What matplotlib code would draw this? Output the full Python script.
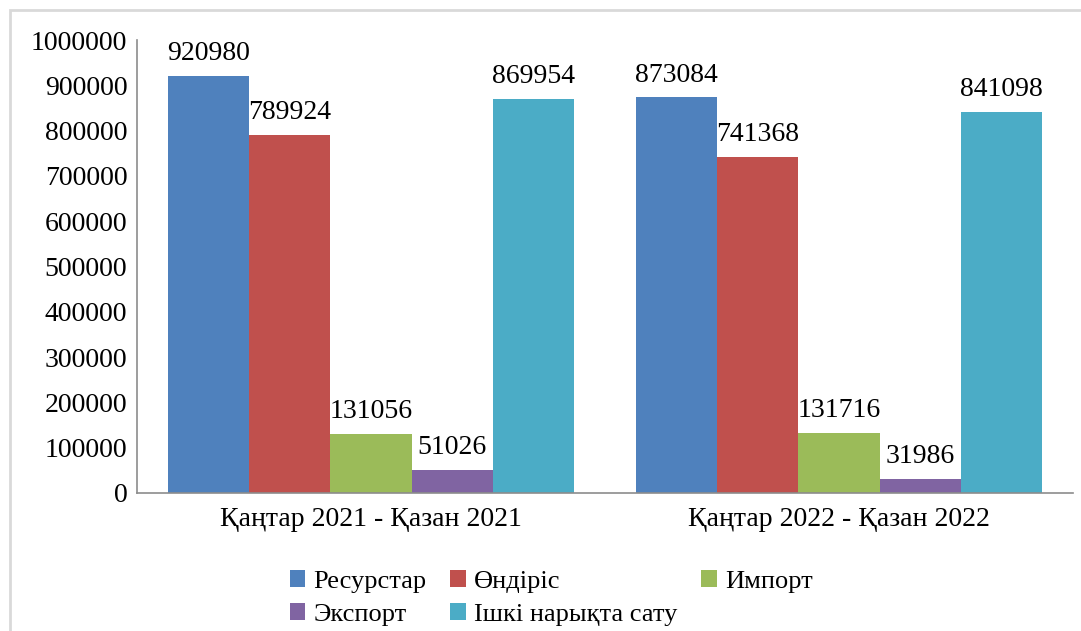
import matplotlib.pyplot as plt
import matplotlib.patches as patches
import numpy as np

plt.rcParams['font.family'] = ['Liberation Serif', 'DejaVu Serif']

# данные
periods = ['Қаңтар 2021 - Қазан 2021', 'Қаңтар 2022 - Қазан 2022']
series_names = ['Ресурстар', 'Өндіріс', 'Импорт', 'Экспорт', 'Ішкі нарықта сату']
resurstar = [920980, 873084]
ondiris = [789924, 741368]
import_vals = [131056, 131716]
export_vals = [51026, 31986]
ishki = [869954, 841098]
colors = ['#4F81BD', '#C0504D', '#9BBB59', '#8064A2', '#4BACC6']

all_series = [resurstar, ondiris, import_vals, export_vals, ishki]

fig = plt.figure(figsize=(10.81, 6.31), dpi=100)
ax = fig.add_axes([137 / 1081, 1 - 493 / 631, (1073 - 137) / 1081, (493 - 40) / 631])

x = np.arange(len(periods))
bw = 0.8675 / 5
handles = []
for k, (vals, name, col) in enumerate(zip(all_series, series_names, colors)):
    pos = x - 2 * bw + k * bw
    b = ax.bar(pos, vals, width=bw, color=col, label=name)
    handles.append(b)
    for p, v in zip(pos, vals):
        ax.text(p, v + 22000, str(v), ha='center', va='bottom', fontsize=20)

ax.set_xlim(-0.5, 1.5)
ax.set_ylim(0, 1000000)
ax.set_yticks(np.arange(0, 1000001, 100000))
ax.set_yticklabels([str(v) for v in range(0, 1000001, 100000)], fontsize=20)
ax.set_xticks(x)
ax.set_xticklabels(periods, fontsize=20)
ax.tick_params(axis='x', length=0, pad=10)
ax.tick_params(axis='y', length=0, pad=7)
for s in ['top', 'right']:
    ax.spines[s].set_visible(False)
for s in ['left', 'bottom']:
    ax.spines[s].set_color('#8c8c8c')
    ax.spines[s].set_linewidth(1.2)

# порядок легенды по строкам
order = [0, 3, 1, 4, 2]
leg = fig.legend([handles[i] for i in order], [series_names[i] for i in order],
                 ncol=3, loc='center', bbox_to_anchor=(551 / 1081, 1 - 598 / 631),
                 frameon=False, fontsize=19, handlelength=0.6, handleheight=0.6,
                 handletextpad=0.3, columnspacing=0.9, labelspacing=0.4)

# рамка
fig.patches.append(patches.Rectangle((10 / 1081, -0.1), 1.2, 1 - 10 / 631 + 0.1,
                                     transform=fig.transFigure, fill=False,
                                     edgecolor='#d9d9d9', linewidth=2))

plt.savefig('out.png', dpi=100)
